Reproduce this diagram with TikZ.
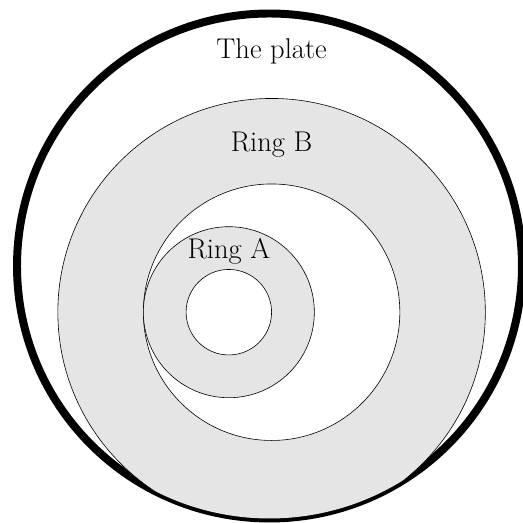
\documentclass[tikz,border=0pt]{standalone}
\usepackage{xcolor}
\usepackage{tikz}
\usetikzlibrary{positioning, calc}

\begin{document}
\begin{tikzpicture}[scale=1.0,
  plate/.style={line width=5.3pt, draw=black},
  ring/.style={fill=black!10, draw=black},
  hole/.style={fill=white, draw=black},
  lbl/.style={font=\fontsize{19}{23}\selectfont}
]
  \useasboundingbox (-6.353,-4.931) rectangle (5.881,7.303);

  % Centres
  \coordinate (plate) at (-0.049, 1.081);
  \coordinate (ringB) at (0,0);
  \coordinate (ringA) at (-1,0);

  % The plate
  \draw[plate] (plate) circle (5.906);

  % Rings, kept inside the plate
  \begin{scope}
    \clip (plate) circle (5.906);
    % Ring B
    \filldraw[ring] (ringB) circle (5);
    \filldraw[hole] (ringB) circle (3);
    % Ring A
    \filldraw[ring] (ringA) circle (2);
    \filldraw[hole] (ringA) circle (1);
  \end{scope}

  % Labels
  \node[lbl] (platelbl) at (0, 6.09) {The plate};
  \node[lbl] (ringBlbl) at (0, 3.93) {Ring B};
  \node[lbl] (ringAlbl) at (-1, 1.43) {Ring A};
\end{tikzpicture}
\end{document}
